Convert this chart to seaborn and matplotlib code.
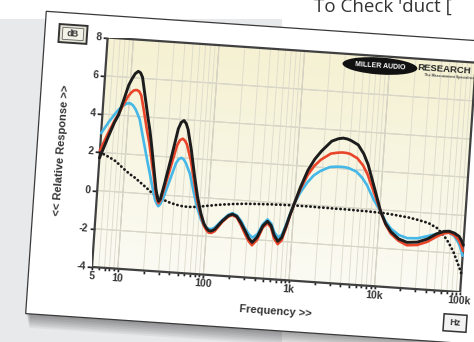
import numpy as np
import matplotlib
matplotlib.use("Agg")
import matplotlib.pyplot as plt
import seaborn as sns
from matplotlib.colors import to_rgba
from matplotlib.patches import Polygon, Rectangle, Ellipse
from matplotlib.transforms import Affine2D
from mpl_toolkits.axisartist import floating_axes
from mpl_toolkits.axisartist.grid_finder import FixedLocator, DictFormatter

FREQ_HZ = [5, 6, 7, 7.7, 8.5, 9.6, 10.4, 11.2, 12.1, 12.9, 13.7, 15.3,
           17, 18.4, 20, 22, 24, 25.4, 26.4, 27.6, 30, 34.3, 39.2, 42, 45, 48,
           51, 58, 66, 74.5, 84, 92.6, 100, 107, 115, 125, 150, 175,
           195, 220, 247, 280, 316, 348, 395, 450, 505, 560,
           620, 690, 760, 832, 910, 1000, 1150, 1360, 1600, 1890,
           2440, 2900, 3300, 3700, 4100, 5000, 5900, 6760, 8360, 10300, 12000, 14000,
           17500, 22000, 29000, 37800, 48000, 58000, 66700, 77000, 87700, 94000,
           100000]
BLACK_DB = [1.7, 2.75, 3.6, 4.0, 4.7, 5.6, 5.95, 6.22, 6.35, 6.28, 6.05, 5.0,
            4.0, 3.3, 2.4, 1.3, 0.3, -0.15, -0.35, -0.2, 0.6, 2.0, 3.5, 3.85, 3.95, 3.8,
            3.5, 2.4, 1.1, 0.0, -0.85, -1.35, -1.58, -1.7, -1.7, -1.6, -1.15, -0.85,
            -0.75, -0.85, -1.15, -1.55, -1.95, -2.15, -1.85, -1.25, -1.0, -1.2,
            -1.7, -2.0, -1.8, -1.25, -0.6, 0.0, 0.9, 1.8, 2.4, 2.85,
            3.4, 3.55, 3.6, 3.57, 3.5, 3.3, 2.85, 2.3, 1.1, -0.1, -0.7, -1.1,
            -1.45, -1.6, -1.55, -1.35, -1.05, -0.9, -0.87, -0.95, -1.1, -1.3,
            -1.55]
RED_DB = [2.1, 3.0, 3.7, 4.05, 4.5, 5.0, 5.22, 5.35, 5.37, 5.3, 5.1, 4.2,
          3.3, 2.7, 1.9, 1.0, 0.1, -0.3, -0.45, -0.3, 0.35, 1.5, 2.65, 2.92, 3.0, 2.9,
          2.7, 1.9, 0.8, -0.2, -0.95, -1.45, -1.68, -1.8, -1.8, -1.7, -1.2, -0.9,
          -0.8, -0.9, -1.25, -1.7, -2.1, -2.3, -2.0, -1.35, -1.1, -1.3,
          -1.85, -2.15, -1.95, -1.35, -0.65, 0.0, 0.8, 1.55, 2.05, 2.4,
          2.75, 2.82, 2.85, 2.84, 2.8, 2.6, 2.25, 1.8, 0.85, -0.1, -0.75, -1.2,
          -1.55, -1.75, -1.7, -1.5, -1.2, -1.0, -0.95, -1.05, -1.3, -1.55,
          -1.85]
BLUE_DB = [3.0, 3.6, 4.05, 4.3, 4.5, 4.65, 4.65, 4.55, 4.35, 4.1, 3.85, 3.0,
           2.2, 1.6, 1.0, 0.3, -0.3, -0.5, -0.6, -0.5, -0.1, 0.8, 1.7, 1.93, 2.0, 1.92,
           1.75, 1.2, 0.3, -0.5, -1.1, -1.45, -1.55, -1.6, -1.6, -1.5, -1.1, -0.8,
           -0.7, -0.8, -1.05, -1.45, -1.75, -1.9, -1.7, -1.15, -0.9, -1.1,
           -1.55, -1.8, -1.65, -1.15, -0.55, 0.0, 0.6, 1.15, 1.55, 1.8,
           2.05, 2.09, 2.1, 2.09, 2.05, 1.9, 1.6, 1.25, 0.5, -0.1, -0.6, -0.95,
           -1.25, -1.38, -1.35, -1.2, -1.05, -0.95, -0.95, -1.1, -1.45, -1.75,
           -2.1]
DOTTED_DB = [2.0, 1.85, 1.7, 1.6, 1.45, 1.25, 1.13, 1.02, 0.92, 0.85, 0.77, 0.6,
             0.45, 0.33, 0.2, 0.05, -0.05, -0.11, -0.15, -0.19, -0.25, -0.35, -0.42, -0.45, -0.48, -0.5,
             -0.52, -0.53, -0.52, -0.5, -0.46, -0.42, -0.4, -0.38, -0.36, -0.33, -0.28, -0.25,
             -0.22, -0.2, -0.18, -0.16, -0.15, -0.14, -0.13, -0.12, -0.11, -0.1,
             -0.1, -0.09, -0.09, -0.08, -0.08, -0.08, -0.08, -0.08, -0.08, -0.09,
             -0.09, -0.1, -0.1, -0.1, -0.1, -0.11, -0.12, -0.12, -0.14, -0.15, -0.17, -0.2,
             -0.25, -0.3, -0.4, -0.52, -0.75, -1.1, -1.45, -1.9, -2.45, -2.75,
             -3.05]

X_LABELS = {5: "5", 10: "10", 100: "100", 1000: "1k", 10000: "10k", 100000: "100k"}
Y_TICKS = [-4, -2, 0, 2, 4, 6, 8]

# page geometry (pixels, y up) - the chart card is photographed slightly tilted
FIG_W, FIG_H = 474, 342
TILT = -3.9
ORIGIN = (92, 75)          # bottom-left corner of the plot frame
PLOT_W, PLOT_H = 369, 230
X0, X1 = np.log10(5), 5.0
Y0, Y1 = -4, 8

sns.set_theme(style="white")
plt.rcParams["font.family"] = ["Liberation Sans", "DejaVu Sans"]

fig = plt.figure(figsize=(FIG_W / 100, FIG_H / 100), dpi=100)
fig.patch.set_facecolor("white")

# ---- page background, card and its shadow ----
bg = fig.add_axes([0, 0, 1, 1])
bg.set_xlim(0, FIG_W)
bg.set_ylim(0, FIG_H)
bg.axis("off")
bg.add_patch(Rectangle((0, 0), 282, FIG_H - 19, color="#e8e9eb", lw=0))
bg.text(314, FIG_H - 11.5, "To Check 'duct [", fontsize=13.5, color="#333333",
        family=["Open Sans", "DejaVu Sans"], va="baseline")

on_card = Affine2D().rotate_deg(TILT).translate(*ORIGIN) + bg.transData
card_xy = [(-63, -51), (480, -51), (480, 252), (-63, 252)]
for i in range(8):
    bg.add_patch(Polygon(card_xy, closed=True,
                         transform=Affine2D().translate(1 + 0.5 * i, -2 - 1.7 * i) + on_card,
                         fc="black", alpha=0.05, lw=0))
bg.add_patch(Polygon(card_xy, closed=True, transform=on_card,
                     fc="white", ec="#3a3a3a", lw=0.9))

# ---- tilted plot frame ----
xgrid = []
for decade in [1, 10, 100, 1000, 10000, 100000]:
    for k in range(1, 10):
        f = k * decade
        if 5 <= f <= 100000:
            xgrid.append(float(np.log10(f)))
xfmt = {v: X_LABELS.get(int(round(10 ** v)), "") for v in xgrid}
yfmt = {float(v): str(v) for v in Y_TICKS}

tr = (Affine2D().translate(-X0, -Y0)
      .scale(PLOT_W / (X1 - X0), PLOT_H / (Y1 - Y0))
      .rotate_deg(TILT))
corners = tr.transform([(X0, Y0), (X1, Y0), (X1, Y1), (X0, Y1)])
bx0, by0 = corners.min(axis=0)
bx1, by1 = corners.max(axis=0)
rect = [(ORIGIN[0] + bx0) / FIG_W, (ORIGIN[1] + by0) / FIG_H,
        (bx1 - bx0) / FIG_W, (by1 - by0) / FIG_H]

helper = floating_axes.GridHelperCurveLinear(
    tr, extremes=(X0, X1, Y0, Y1),
    grid_locator1=FixedLocator(xgrid), tick_formatter1=DictFormatter(xfmt),
    grid_locator2=FixedLocator([float(v) for v in Y_TICKS]),
    tick_formatter2=DictFormatter(yfmt))
ax = fig.add_axes(rect, axes_class=floating_axes.FloatingAxes, grid_helper=helper)
ax.set_aspect("auto")
ax.set_xlim(bx0, bx1)
ax.set_ylim(by0, by1)
ax.patch.set_facecolor("#f8f6e2")
ax.grid(True, color="#dcdacb", lw=0.6)

for side in ("top", "right"):
    ax.axis[side].toggle(ticklabels=False, ticks=False)
for side in ("bottom", "left"):
    ax.axis[side].major_ticklabels.set(fontsize=7.5, fontweight="bold", color="#333333")
    ax.axis[side].major_ticks.set_tick_out(True)
ax.axis["left"].major_ticks.set_ticksize(3.5)
ax.axis["bottom"].major_ticks.set_ticksize(2)
ax.axis["left"].major_ticklabels.set_pad(1)
ax.axis["bottom"].major_ticklabels.set_pad(1)
ax.axis[:].line.set(color="#404040", linewidth=1.6)

aux = ax.get_aux_axes(tr)

# cream wash fading toward the bottom of the plot
shade = np.linspace(to_rgba("#f5f1d2"), to_rgba("#fbfbf4"), 60)[:, None, :]
wash = aux.imshow(shade, extent=(X0, X1, Y0, Y1), aspect="auto",
                  interpolation="bilinear", zorder=0)
wash.set_clip_path(ax.patch)
aux.vlines([1, 2, 3, 4], Y0, Y1, color="#bdbbad", lw=0.8, zorder=1.5)
aux.hlines(Y_TICKS[1:-1], X0, X1, color="#c9c7ba", lw=0.8, zorder=1.5)

logf = np.log10(FREQ_HZ)
sns.lineplot(x=logf, y=DOTTED_DB, ax=aux, color="#1a1a1a", lw=2.0,
             linestyle=(0, (0.1, 1.45)), dash_capstyle="round", zorder=3)
sns.lineplot(x=logf, y=BLUE_DB, ax=aux, color="#45b8e8", lw=1.9, zorder=4)
sns.lineplot(x=logf, y=RED_DB, ax=aux, color="#e8452a", lw=1.9, zorder=5)
sns.lineplot(x=logf, y=BLACK_DB, ax=aux, color="#1c1c1c", lw=2.1, zorder=6)

# ---- labels, unit boxes and logo on the card ----
fg = fig.add_axes([0, 0, 1, 1], zorder=5)
fg.set_xlim(0, FIG_W)
fg.set_ylim(0, FIG_H)
fg.axis("off")
card_fg = Affine2D().rotate_deg(TILT).translate(*ORIGIN) + fg.transData
label_kw = dict(transform=card_fg, rotation_mode="anchor", ha="center", va="center",
                fontweight="bold", color="#333333")

fg.text(185.6, -31.5, "Frequency >>", rotation=TILT, fontsize=8, **label_kw)
fg.text(-38.9, 114.6, "<< Relative Response >>", rotation=90 + TILT, fontsize=8, **label_kw)

fg.add_patch(Rectangle((-48.8, 222.2), 28, 18, transform=card_fg,
                       fc="#e6e5d8", ec="#333333", lw=1.4))
fg.add_patch(Rectangle((-45.3, 225.2), 21, 12, transform=card_fg,
                       fc="#f4f3e8", ec="#666666", lw=0.6))
fg.text(-34.8, 231.2, "dB", rotation=TILT, fontsize=6.5, **label_kw)

fg.add_patch(Rectangle((354.5, -39.7), 23, 17, transform=card_fg,
                       fc="#f2f2f2", ec="#333333", lw=1.1))
fg.text(366, -31.2, "Hz", rotation=TILT, fontsize=6.5, **label_kw)

fg.add_patch(Ellipse((273.6, 220.1), 75, 17, transform=card_fg, fc="#111111", lw=0))
fg.text(273.6, 220.1, "MILLER AUDIO", transform=card_fg, rotation=TILT,
        rotation_mode="anchor", ha="center", va="center", fontsize=5,
        fontweight="bold", color="white")
fg.text(311, 221.5, "RESEARCH", transform=card_fg, rotation=TILT,
        rotation_mode="anchor", ha="left", va="center", fontsize=6.8,
        fontweight="bold", color="#222222")
fg.text(318, 214.5, "The Measurement Specialists", transform=card_fg, rotation=TILT,
        rotation_mode="anchor", ha="left", va="center", fontsize=2.6,
        fontweight="bold", color="#444444")

fig.savefig("out.png", dpi=100)
